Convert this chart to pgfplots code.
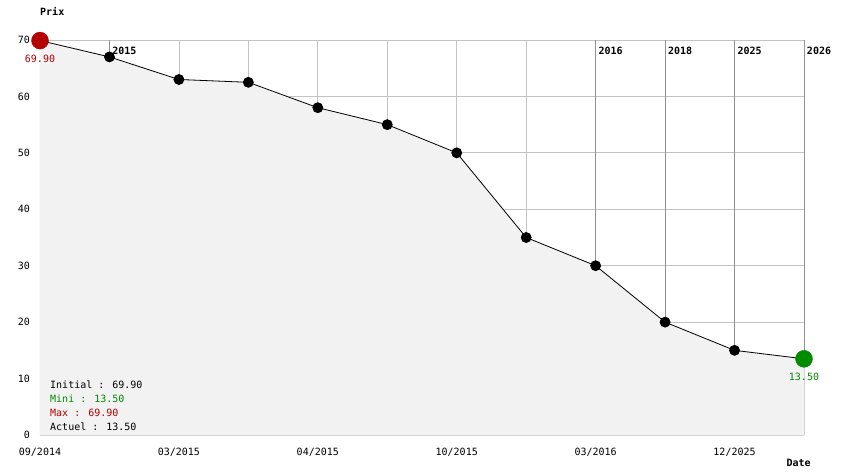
\documentclass[border=0pt]{standalone}
\usepackage{fontspec}
\setmainfont{DejaVu Sans Mono}
\usepackage{pgfplots}
\pgfplotsset{compat=1.18}
\definecolor{mred}{RGB}{180,0,0}
\definecolor{mgreen}{RGB}{0,140,0}
\definecolor{fillg}{RGB}{242,242,242}
\definecolor{gridl}{RGB}{195,195,195}
\definecolor{gridd}{RGB}{145,145,145}
\begin{document}
\begin{tikzpicture}[x=1pt,y=1pt]
\useasboundingbox (0,0) rectangle (844,474);
\begin{axis}[
  at={(40pt,39pt)}, anchor=south west,
  scale only axis, width=764pt, height=395pt,
  xmin=0, xmax=11, ymin=0, ymax=70,
  clip=false,
  axis line style={draw=none},
  major tick length=0pt,
  xtick={0,1,2,3,4,5,6,7,8,9,10,11},
  xticklabels={09/2014,,03/2015,,04/2015,,10/2015,,03/2016,,12/2025,},
  ytick={0,10,20,30,40,50,60,70},
  extra x ticks={1,8,9,10,11},
  extra x tick labels={},
  extra x tick style={grid style={draw=gridd, line width=0.8pt}},
  grid=major,
  grid style={draw=gridl, line width=0.8pt},
  /pgf/number format/assume math mode=true,
  tick label style={font=\fontsize{10}{12}\selectfont},
  yticklabel style={inner sep=0pt, xshift=-10pt},
  xticklabel style={yshift=-10pt},
]
\addplot[fill=fillg, draw=fillg, line width=1pt] coordinates {
 (0,69.9) (1,67) (2,63) (3,62.5) (4,58) (5,55) (6,50) (7,35) (8,30) (9,20) (10,15) (11,13.5)
} \closedcycle;
\addplot[black, line width=0.8pt, mark=*, mark size=5pt, mark options={fill=black}] coordinates {
 (0,69.9) (1,67) (2,63) (3,62.5) (4,58) (5,55) (6,50) (7,35) (8,30) (9,20) (10,15) (11,13.5)
};
\addplot[only marks, mark=*, mark size=8.5pt, color=mred, fill=mred] coordinates {(0,69.9)};
\addplot[only marks, mark=*, mark size=8.5pt, color=mgreen, fill=mgreen] coordinates {(11,13.5)};
\begin{scope}[every node/.style={font=\fontsize{10}{12}\selectfont, inner sep=0pt}]
\node[text=mred] at (axis cs:0,66.7) {69.90};
\node[text=mgreen] at (axis cs:11,10.3) {13.50};
\node[anchor=west, font=\fontsize{10}{12}\selectfont\bfseries] at (axis cs:1.04,68.0) {2015};
\node[anchor=west, font=\fontsize{10}{12}\selectfont\bfseries] at (axis cs:8.04,68.0) {2016};
\node[anchor=west, font=\fontsize{10}{12}\selectfont\bfseries] at (axis cs:9.04,68.0) {2018};
\node[anchor=west, font=\fontsize{10}{12}\selectfont\bfseries] at (axis cs:10.04,68.0) {2025};
\node[anchor=west, font=\fontsize{10}{12}\selectfont\bfseries] at (axis cs:11.04,68.0) {2026};
\node[anchor=west, font=\fontsize{10}{12}\selectfont\bfseries] at (axis cs:0,75) {Prix};
\node[anchor=east, font=\fontsize{10}{12}\selectfont\bfseries] at (axis cs:11.1,-5) {Date};
\node[anchor=west] at (axis cs:0.144,8.86) {Initial : 69.90};
\node[anchor=west, text=mgreen] at (axis cs:0.144,6.38) {Mini : 13.50};
\node[anchor=west, text=mred] at (axis cs:0.144,3.9) {Max : 69.90};
\node[anchor=west] at (axis cs:0.144,1.42) {Actuel : 13.50};
\end{scope}
\end{axis}
\end{tikzpicture}
\end{document}
